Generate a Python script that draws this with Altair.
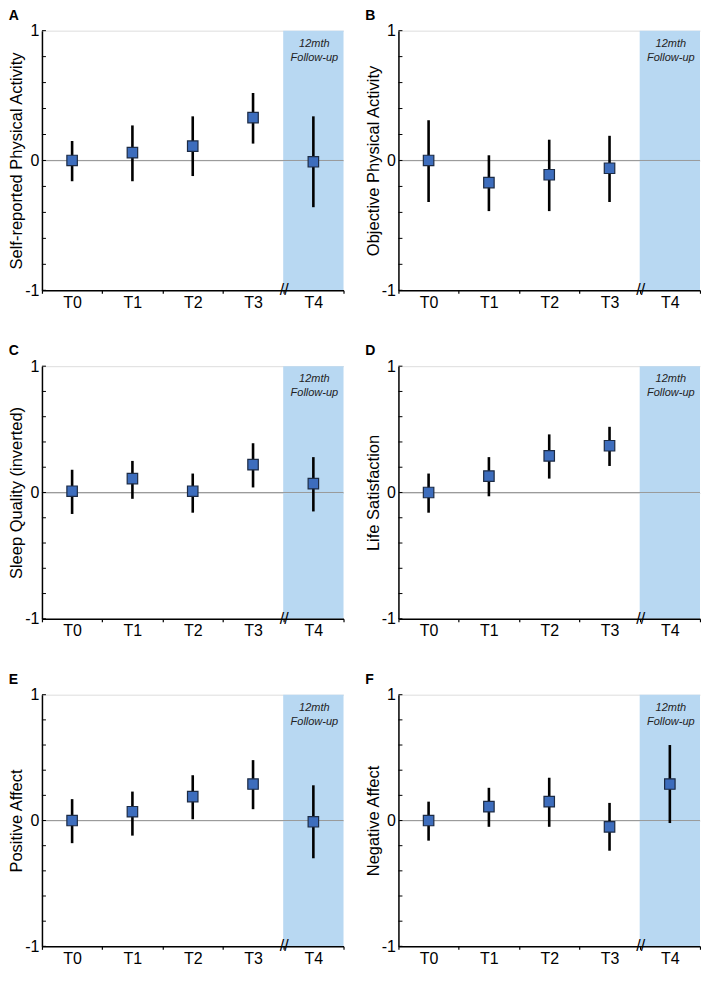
import altair as alt
import pandas as pd

times = ["T0", "T1", "T2", "T3", "T4"]
minor_ticks = [-1, -0.8, -0.6, -0.4, -0.2, 0, 0.2, 0.4, 0.6, 0.8, 1]

# A - Self-reported Physical Activity
est_a = [0.0, 0.06, 0.11, 0.33, -0.01]
lo_a = [-0.16, -0.16, -0.12, 0.13, -0.36]
hi_a = [0.15, 0.27, 0.34, 0.52, 0.34]

# B - Objective Physical Activity (no T4 data)
est_b = [0.0, -0.17, -0.11, -0.06, None]
lo_b = [-0.32, -0.39, -0.39, -0.32, None]
hi_b = [0.31, 0.04, 0.16, 0.19, None]

# C - Sleep Quality (inverted)
est_c = [0.01, 0.11, 0.01, 0.22, 0.07]
lo_c = [-0.17, -0.05, -0.16, 0.04, -0.15]
hi_c = [0.18, 0.25, 0.15, 0.39, 0.28]

# D - Life Satisfaction (no T4 data)
est_d = [0.0, 0.13, 0.29, 0.37, None]
lo_d = [-0.16, -0.03, 0.11, 0.21, None]
hi_d = [0.15, 0.28, 0.46, 0.52, None]

# E - Positive Affect
est_e = [0.0, 0.07, 0.19, 0.29, -0.01]
lo_e = [-0.18, -0.12, 0.01, 0.09, -0.30]
hi_e = [0.17, 0.23, 0.36, 0.48, 0.28]

# F - Negative Affect
est_f = [0.0, 0.11, 0.15, -0.05, 0.29]
lo_f = [-0.16, -0.05, -0.05, -0.24, -0.02]
hi_f = [0.15, 0.26, 0.34, 0.14, 0.60]

followup_col = ["T4"]
followup_note = ["12mth\nFollow-up"]

BAND = "#b8d8f2"
SQUARE = "#3d6dbd"
FONT = "Liberation Sans"


def panel(letter, ylabel, est, lo, hi, w, h):
    df = pd.DataFrame({"time": times, "est": est, "lo": lo, "hi": hi}).dropna()
    band_df = pd.DataFrame({"time": followup_col, "top": [1], "bot": [-1]})
    note_df = pd.DataFrame({"time": followup_col, "note": followup_note})
    tick_df = pd.DataFrame({"v": minor_ticks})

    xscale = alt.Scale(domain=times, paddingInner=0, paddingOuter=0)
    xaxis = alt.Axis(title=None, labelAngle=0, labelFontSize=16, labelColor="black",
                     labelPadding=1, tickBand="extent", tickSize=3, tickColor="black",
                     tickWidth=1.2, domainColor="black", domainWidth=1.5)
    x = alt.X("time:N", scale=xscale, axis=xaxis, sort=times)

    yscale = alt.Scale(domain=[-1, 1], nice=False, zero=False)
    yaxis = alt.Axis(title=ylabel, values=[-1, 0, 1], ticks=False, labelFontSize=16,
                     labelExpr="'' + datum.value",
                     labelColor="black", labelPadding=3, titleFontSize=16.5,
                     titleFontWeight="normal", titleColor="black", titlePadding=0,
                     domainColor="black", domainWidth=1.5)

    def y(field):
        return alt.Y(field, scale=yscale, axis=yaxis)

    band = alt.Chart(band_df).mark_rect(color=BAND).encode(
        x=x, y=y("top:Q"), y2="bot:Q"
    )
    zero = alt.Chart(band_df).mark_rule(color="#9a9a9a", strokeWidth=1).encode(
        y=alt.datum(0)
    )
    minor = alt.Chart(tick_df).mark_rule(color="black", strokeWidth=1).encode(
        y=y("v:Q"), x=alt.value(0), x2=alt.value(4)
    )
    bars = alt.Chart(df).mark_rule(color="black", strokeWidth=2.6).encode(
        x=x, y=y("lo:Q"), y2="hi:Q"
    )
    pts = alt.Chart(df).mark_square(size=110, filled=True, fill=SQUARE, stroke="#1c2b44",
                                    strokeWidth=1.2, opacity=1).encode(
        x=x, y=y("est:Q")
    )
    note = alt.Chart(note_df).mark_text(lineBreak="\n", fontStyle="italic", fontSize=11,
                                        lineHeight=14, baseline="top", dy=7, dx=1,
                                        color="#222222").encode(
        x=x, y=alt.datum(1), text="note:N"
    )
    brk = alt.Chart(note_df).mark_text(text="//", fontSize=16, baseline="middle",
                                       align="center", dx=1, color="black").encode(
        x=alt.X("time:N", scale=xscale, axis=xaxis, sort=times, bandPosition=0),
        y=alt.datum(-1)
    )

    return alt.layer(band, zero, minor, bars, pts, note, brk).properties(
        width=w, height=h,
        title=alt.TitleParams(letter, anchor="start", fontSize=14, fontWeight="bold",
                              color="black", offset=0)
    )


pA = panel("A", "Self-reported Physical Activity", est_a, lo_a, hi_a, 302, 260)
pB = panel("B", "Objective Physical Activity", est_b, lo_b, hi_b, 302, 260)
pC = panel("C", "Sleep Quality (inverted)", est_c, lo_c, hi_c, 302, 253)
pD = panel("D", "Life Satisfaction", est_d, lo_d, hi_d, 302, 253)
pE = panel("E", "Positive Affect", est_e, lo_e, hi_e, 302, 252)
pF = panel("F", "Negative Affect", est_f, lo_f, hi_f, 302, 252)

chart = alt.vconcat(
    alt.hconcat(pA, pB, spacing=20),
    alt.hconcat(pC, pD, spacing=20),
    alt.hconcat(pE, pF, spacing=20),
    spacing=34,
).properties(padding=0).configure(font=FONT).configure_view(stroke=None)

chart.save("out.html", embed_options={"renderer": "svg", "actions": False})
